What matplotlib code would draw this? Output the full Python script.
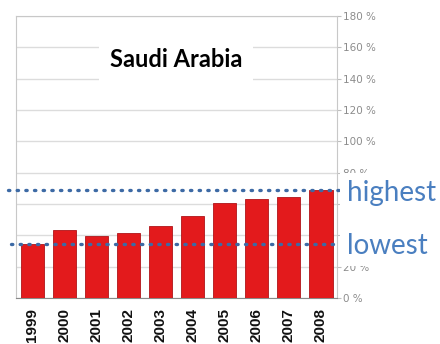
import matplotlib
matplotlib.use('Agg')
import matplotlib.pyplot as plt

years = ['1999', '2000', '2001', '2002', '2003', '2004', '2005', '2006', '2007', '2008']
share = [34.5, 43.4, 39.6, 41.3, 46.0, 52.5, 60.6, 63.2, 64.7, 68.7]
y_ticks = [0, 20, 40, 60, 80, 100, 120, 140, 160, 180]

fig = plt.figure(figsize=(4.4, 3.44), dpi=100)
ax = fig.add_axes([0.0364, 0.1337, 0.7296, 0.8198])

# red columns, one per year
ax.bar(range(len(years)), share, width=0.72, color='#e31a1c', edgecolor='#b01418',
       linewidth=0.6, zorder=3)
ax.set_xlim(-0.5, len(years) - 0.5)
ax.set_ylim(0, 180)

# axis on the right, light gray style
ax.yaxis.tick_right()
ax.set_yticks(y_ticks)
ax.set_yticklabels([f'{t} %' for t in y_ticks], color='#8c8c8c', fontsize=7.5,
                   family='Liberation Sans Narrow')
ax.tick_params(axis='y', length=3, color='#bfbfbf', pad=1)
ax.tick_params(axis='x', length=0, pad=7)
ax.set_xticks(range(len(years)))
ax.set_xticklabels(years, rotation=90, fontsize=11, family='Liberation Sans',
                   fontweight='bold', color='#111111')
ax.grid(axis='y', color='#dcdcdc', linewidth=1, zorder=0)
for side in ['left', 'top', 'right']:
    ax.spines[side].set_color('#c8c8c8')
ax.spines['bottom'].set_color('#8a8a8a')

# title box sitting on the gridlines
ax.text(4.48, 152, 'Saudi Arabia', ha='center', va='center', fontsize=17,
        fontweight='bold', family='Lato', color='black', zorder=5,
        bbox=dict(facecolor='white', edgecolor='none', pad=8))

# dotted reference lines for the extremes
hi, lo = max(share), min(share)
blue = '#3d6aa5'
dots = (0, (0.4, 2.2))
ax.axhline(hi, xmin=-0.025, xmax=1.01, color=blue, linestyle=dots, linewidth=2.4,
           dash_capstyle='round', clip_on=False, zorder=4)
ax.axhline(lo, xmin=-0.017, xmax=1.0, color=blue, linestyle=dots, linewidth=2.4,
           dash_capstyle='round', clip_on=False, zorder=4)
ax.text(9.8, hi - 1.5, 'highest', ha='left', va='center', fontsize=20,
        family='Lato', color='#4a7fc0', zorder=6, clip_on=False,
        bbox=dict(facecolor='white', edgecolor='none', pad=5))
ax.text(9.8, lo - 1.5, 'lowest', ha='left', va='center', fontsize=20,
        family='Lato', color='#4a7fc0', zorder=6, clip_on=False,
        bbox=dict(facecolor='white', edgecolor='none', pad=5))

fig.savefig('out.png', dpi=100)
